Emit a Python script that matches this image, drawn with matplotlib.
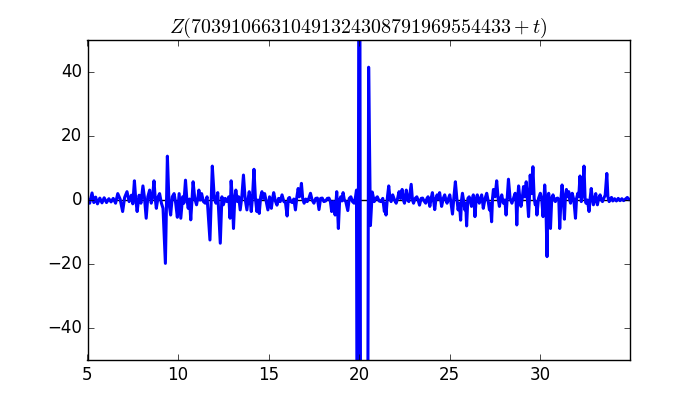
import matplotlib
matplotlib.use('Agg')
import matplotlib.pyplot as plt

plt.style.use('classic')

# values (peaks and troughs of Z)
t_vals = [5.00, 5.12, 5.25, 5.35, 5.45, 5.55, 5.68, 5.80, 5.92, 6.05, 6.18, 6.30, 6.42, 6.55, 6.67, 6.80,
          6.94, 7.05, 7.18, 7.30, 7.42, 7.50, 7.59, 7.66, 7.74, 7.85, 7.95, 8.06, 8.15, 8.24, 8.33, 8.43,
          8.52, 8.60, 8.67, 8.74, 8.80, 8.90, 8.98, 9.08, 9.17, 9.30, 9.41, 9.50, 9.59, 9.68, 9.78, 9.87,
          9.96, 10.06, 10.15, 10.25, 10.32, 10.41, 10.48, 10.56, 10.63, 10.70, 10.77, 10.83, 10.92, 11.02,
          11.10, 11.15, 11.22, 11.30, 11.40, 11.50, 11.60, 11.76, 11.89, 12.00, 12.09, 12.19, 12.33, 12.42,
          12.50, 12.60, 12.70, 12.80, 12.87, 12.93, 13.00, 13.06, 13.13, 13.19, 13.28, 13.35, 13.43, 13.52,
          13.61, 13.70, 13.80, 13.87, 13.93, 13.98, 14.04, 14.11, 14.19, 14.27, 14.35, 14.41, 14.48, 14.56,
          14.63, 14.70, 14.78, 14.87, 14.96, 15.05, 15.15, 15.22, 15.28, 15.37, 15.46, 15.55, 15.64, 15.74,
          15.84, 15.93, 16.02, 16.09, 16.15, 16.22, 16.30, 16.39, 16.48, 16.56, 16.63, 16.70, 16.76, 16.81,
          16.88, 16.96, 17.05, 17.13, 17.22, 17.31, 17.40, 17.50, 17.60, 17.69, 17.78, 17.87, 17.96, 18.05,
          18.15, 18.24, 18.33, 18.41, 18.48, 18.57, 18.67, 18.76, 18.85, 18.92, 18.98, 19.05, 19.11, 19.18,
          19.26, 19.37, 19.45, 19.54, 19.63, 19.72, 19.80, 19.85, 19.91, 20.01, 20.12, 20.40, 20.52, 20.62,
          20.72, 20.83, 20.92, 21.00, 21.10, 21.20, 21.30, 21.39, 21.44, 21.48, 21.56, 21.63, 21.70, 21.76,
          21.85, 21.95, 22.04, 22.12, 22.20, 22.28, 22.37, 22.44, 22.50, 22.60, 22.67, 22.74, 22.87, 22.94,
          23.00, 23.09, 23.18, 23.25, 23.33, 23.42, 23.50, 23.58, 23.67, 23.74, 23.80, 23.90, 23.97, 24.04,
          24.10, 24.17, 24.24, 24.30, 24.37, 24.44, 24.50, 24.55, 24.64, 24.72, 24.79, 24.85, 24.93, 25.00,
          25.07, 25.15, 25.23, 25.31, 25.39, 25.46, 25.53, 25.60, 25.65, 25.70, 25.77, 25.83, 25.88, 25.93,
          26.00, 26.07, 26.14, 26.20, 26.25, 26.30, 26.35, 26.39, 26.46, 26.52, 26.58, 26.63, 26.70, 26.76,
          26.80, 26.85, 26.95, 27.04, 27.11, 27.19, 27.24, 27.31, 27.36, 27.41, 27.50, 27.59, 27.67, 27.74,
          27.81, 27.87, 27.92, 27.96, 28.04, 28.11, 28.17, 28.24, 28.33, 28.43, 28.52, 28.61, 28.66, 28.70,
          28.75, 28.80, 28.87, 28.93, 29.00, 29.07, 29.15, 29.22, 29.28, 29.35, 29.40, 29.44, 29.52, 29.59,
          29.66, 29.72, 29.77, 29.81, 29.90, 30.00, 30.08, 30.15, 30.20, 30.24, 30.30, 30.37, 30.42, 30.46,
          30.51, 30.56, 30.63, 30.70, 30.77, 30.83, 30.90, 30.96, 31.02, 31.07, 31.14, 31.20, 31.27, 31.33,
          31.38, 31.44, 31.50, 31.57, 31.62, 31.67, 31.72, 31.76, 31.85, 31.94, 32.00, 32.07, 32.12, 32.19,
          32.26, 32.33, 32.41, 32.47, 32.52, 32.60, 32.69, 32.75, 32.81, 32.87, 32.93, 33.00, 33.06, 33.10,
          33.15, 33.22, 33.30, 33.37, 33.43, 33.50, 33.58, 33.67, 33.73, 33.80, 33.87, 33.93, 34.00, 34.10,
          34.20, 34.30, 34.40, 34.50, 34.60, 34.70, 34.80, 34.90]
z_vals = [0.5, -1.0, 2.2, -0.8, 0.9, -1.2, 0.6, -0.9, 0.7, -0.8, 0.4, -0.6, 0.5, -1.0, 2.0, 0.3,
          -3.6, 0.8, 2.6, -0.5, 1.5, -1.2, 6.0, 0.5, -3.6, 1.5, -1.0, 4.4, 0.5, -5.7, 1.0, 3.1,
          -1.0, 1.5, 6.0, 0.5, -2.6, 1.0, 2.0, -1.0, -2.6, -19.8, 13.7, -1.0, -4.7, 1.0, 2.0, -1.0,
          -5.4, 2.0, -5.7, 1.0, -1.0, 6.2, 0.5, -2.6, 0.3, -6.2, 0.5, 5.7, 0.5, -1.5,
          1.0, 3.1, 0.0, 2.0, -0.5, -1.0, 1.0, -12.5, 10.6, 0.5, -1.0, 2.3, -13.5, 1.0,
          -1.5, 0.5, -0.5, 1.0, -5.7, 6.0, 0.0, -8.9, 0.5, 3.1, -0.5, 1.0, -3.1, 1.0,
          7.8, 0.5, -3.1, 0.5, 2.6, 0.0, -3.6, 1.0, 9.6, 0.5, -3.6, 0.0, -4.2, 1.0,
          2.6, 0.5, 2.0, -0.5, -3.1, 1.0, -2.6, 0.5, 2.3, -0.3, -1.6, 0.5, -0.5, 1.6,
          -0.5, -0.8, -5.0, 0.5, 0.8, -0.5, -0.8, 0.3, -3.1, 1.0, 3.6, 1.0, 2.5, 5.2,
          0.5, -1.0, 0.3, -0.5, 0.5, 2.1, 0.0, -1.0, 0.5, 0.6, -3.0, 0.5, 0.6, -0.5,
          -0.3, 0.5, 0.6, -0.5, -3.6, -0.5, -4.7, 2.6, -8.9, 0.0, 1.0, -0.3, 2.3, 0.0,
          -0.5, -3.3, 0.5, 1.0, -0.5, -1.0, 1.0, 3.1, -150.0, 170.0, -250.0, -250.0, 41.5, -8.0,
          2.5, -0.5, 0.5, 1.0, -0.3, -0.5, 0.5, -3.6, -1.0, -4.7, 1.0, 4.4, 0.5, -0.5,
          1.6, 0.0, -1.0, 0.5, 2.6, 0.5, 3.3, 0.0, -1.0, 3.1, 0.0, -0.5, 4.9, 0.0,
          -1.0, 0.5, 1.0, 0.0, -1.6, 0.5, 0.6, -0.3, -1.0, 0.5, 1.0, -2.0, 0.5, 2.3,
          0.0, -3.0, 0.5, 1.6, 0.3, 2.3, 0.0, -2.0, 0.5, 1.6, 0.0, -1.0, 0.5, 1.6,
          -1.0, -4.4, 1.0, 5.7, 0.5, -3.1, -1.0, -6.3, 0.0, 2.1, -0.5, -3.1, -1.0, -8.1,
          0.5, 1.0, -0.5, -2.0, 0.5, 1.6, -1.0, -5.2, 0.5, 1.6, 0.0, -1.0, 0.5, 1.6,
          0.0, -2.6, 0.5, 2.1, 0.0, -3.1, -1.0, -6.8, 0.5, 3.3, 1.0, 6.0, 0.5, -2.0,
          0.5, 1.6, 0.0, -1.0, 0.0, -4.7, 0.5, 6.5, 0.5, -1.0, 0.5, 2.1, 0.0, -7.8,
          0.5, 4.4, 0.5, -2.0, 0.5, 4.2, 1.0, 5.7, 0.5, -5.2, 1.0, 7.8, 2.0, 10.4,
          0.5, -1.5, -0.5, -4.7, 0.5, 2.1, 0.0, -5.2, 0.5, 4.7, 0.0, -17.7, 0.5, 2.1,
          0.0, -8.9, 0.5, 1.6, 0.0, -0.5, 0.5, 0.6, 0.0, -8.9, 0.5, 4.7, 0.0, -6.0,
          0.5, 3.3, 1.0, 2.6, 0.0, -1.0, 0.5, 2.1, 0.0, -5.7, 0.5, 2.1, 1.0, 7.5,
          -0.5, 2.0, 10.6, 0.5, -1.0, 0.0, -3.6, 0.5, 3.6, 0.5, -1.5, 0.5, 2.0, 0.0,
          -1.5, 0.5, 1.6, 0.0, -0.5, 0.5, 1.5, 8.3, 1.0, -0.5, 0.5, 0.8, -0.3, 0.4,
          -0.3, 0.5, -0.2, 0.4, -0.2, 0.3, 0.8, 0.2]

shift = '70391066310491324308791969554433'

fig = plt.figure(figsize=(7, 4))
ax = fig.add_subplot(111)

ax.axhline(0, color='k', lw=1, zorder=1)
ax.plot(t_vals, z_vals, color='b', lw=2.2, zorder=2)

ax.set_xlim(5, 34.95)
ax.set_ylim(-50, 50)
ax.set_xticks([5, 10, 15, 20, 25, 30])
ax.set_yticks([-40, -20, 0, 20, 40])
ax.set_title(r'$Z(' + shift + '+t)$')

fig.savefig('out.png', dpi=100, facecolor='white')
